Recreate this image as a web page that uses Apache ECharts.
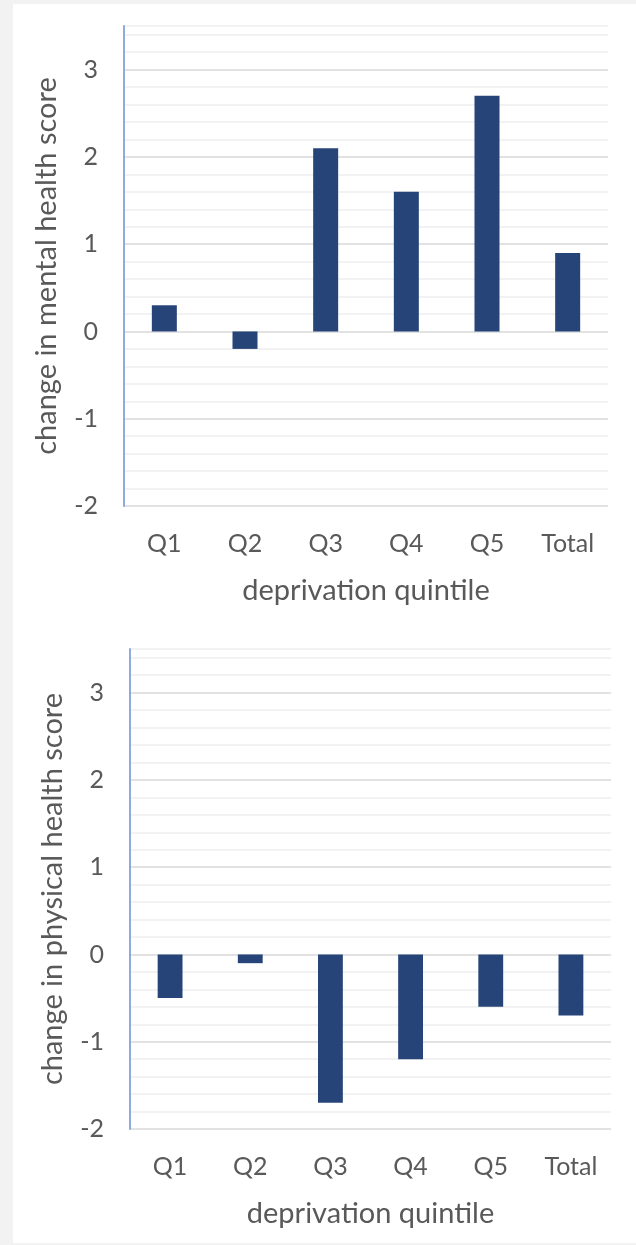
<!DOCTYPE html>
<html>
<head>
<meta charset="utf-8">
<script src="https://cdn.jsdelivr.net/npm/echarts@6/dist/echarts.min.js"></script>
<style>
  html, body { margin: 0; padding: 0; background: #f2f2f2; }
  #panel { position: absolute; left: 13px; top: 4px; width: 623px; height: 1239px; background: #ffffff; }
  #chart { position: absolute; left: 0; top: 0; width: 636px; height: 1245px; }
</style>
</head>
<body>
<div id="panel"></div>
<div id="chart"></div>
<script>
// Deprivation quintiles and change in health scores
const categories = ['Q1', 'Q2', 'Q3', 'Q4', 'Q5', 'Total'];
const mentalChange = [0.3, -0.2, 2.1, 1.6, 2.7, 0.9];
const physicalChange = [-0.5, -0.1, -1.7, -1.2, -0.6, -0.7];
const yMin = -2;
const yMax = 3.5;

const TEXT = '#595959';
const FONT = 'Lato';
const BAR = '#264478';
const MAJOR = '#d9d9d9';
const MINOR = '#eeeeee';

// gridline colours: every 0.2 step, darker on whole numbers, none at the top edge
const steps = Math.round((yMax - yMin) / 0.2);
const lineColors = [];
for (let i = 0; i <= steps + 1; i++) {
  lineColors.push(i > steps ? 'transparent' : (i % 5 === 0 ? MAJOR : MINOR));
}

function yAxisFor(gridIndex, title) {
  return {
    type: 'value', gridIndex: gridIndex, min: yMin, max: yMax, interval: 0.2,
    name: title, nameLocation: 'middle', nameGap: 63,
    nameTextStyle: { color: TEXT, fontFamily: FONT, fontSize: 29 },
    axisLine: { show: true, lineStyle: { color: '#8faadc', width: 2 } },
    axisTick: { show: false },
    axisLabel: {
      color: TEXT, fontFamily: FONT, fontSize: 25, margin: 26,
      formatter: function (v) {
        return Math.abs(v - Math.round(v)) < 1e-6 ? String(Math.round(v)) : '';
      }
    },
    splitLine: { show: true, lineStyle: { color: lineColors, width: 1.5 } }
  };
}

function xAxisFor(gridIndex) {
  return {
    type: 'category', gridIndex: gridIndex, data: categories, position: 'bottom',
    name: 'deprivation quintile', nameLocation: 'middle', nameGap: 70,
    nameTextStyle: { color: TEXT, fontFamily: FONT, fontSize: 29 },
    axisLine: { show: false, onZero: false },
    axisTick: { show: false },
    axisLabel: { color: TEXT, fontFamily: FONT, fontSize: 25, margin: 25 }
  };
}

const chart = echarts.init(document.getElementById('chart'), null, { renderer: 'canvas' });
chart.setOption({
  animation: false,
  grid: [
    { left: 124, right: 28, top: 26, height: 480 },
    { left: 130, right: 25, top: 649, height: 480 }
  ],
  xAxis: [xAxisFor(0), xAxisFor(1)],
  yAxis: [
    yAxisFor(0, 'change in mental health score'),
    yAxisFor(1, 'change in physical health score')
  ],
  series: [
    { type: 'bar', xAxisIndex: 0, yAxisIndex: 0, data: mentalChange, barWidth: '31%', itemStyle: { color: BAR } },
    { type: 'bar', xAxisIndex: 1, yAxisIndex: 1, data: physicalChange, barWidth: '31%', itemStyle: { color: BAR } }
  ]
});
</script>
</body>
</html>
